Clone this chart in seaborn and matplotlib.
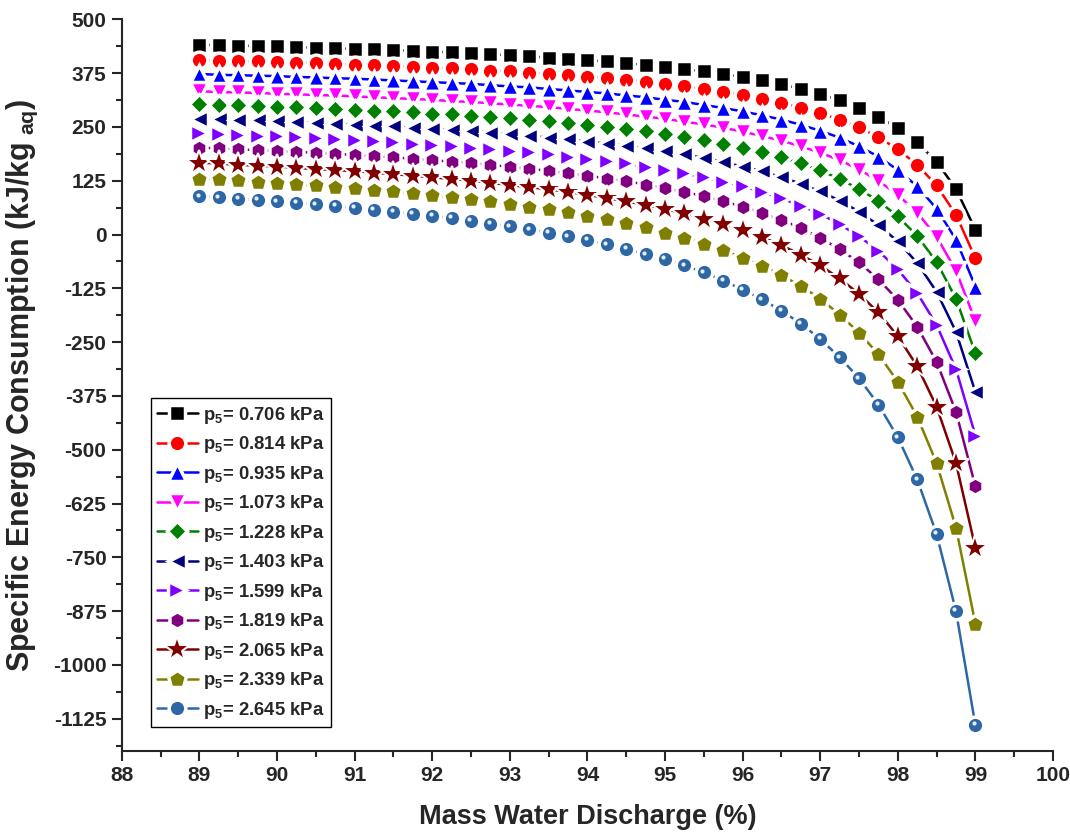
import matplotlib
matplotlib.use('Agg')
import matplotlib.pyplot as plt
import matplotlib.transforms as mtransforms
import seaborn as sns
from matplotlib.ticker import MultipleLocator

# x values: mass water discharge (%)
mass_discharge = [89.0, 89.25, 89.5, 89.75, 90.0, 90.25, 90.5, 90.75, 91.0, 91.25,
                  91.5, 91.75, 92.0, 92.25, 92.5, 92.75, 93.0, 93.25, 93.5, 93.75,
                  94.0, 94.25, 94.5, 94.75, 95.0, 95.25, 95.5, 95.75, 96.0, 96.25,
                  96.5, 96.75, 97.0, 97.25, 97.5, 97.75, 98.0, 98.25, 98.5, 98.75, 99.0]

# specific energy consumption (kJ/kg_aq)
sec_0706 = [441, 440, 439, 438, 437, 435, 434, 433, 431, 430, 428, 427, 425, 423, 421,
            419, 416, 414, 411, 408, 405, 402, 398, 394, 389, 384, 379, 373, 366, 358,
            349, 338, 326, 312, 295, 274, 247, 214, 169, 106, 11]
sec_0814 = [405, 404, 403, 402, 400, 399, 398, 396, 395, 393, 391, 390, 388, 386, 384,
            381, 379, 376, 373, 370, 367, 363, 359, 355, 350, 344, 339, 332, 324, 316,
            306, 295, 282, 267, 249, 226, 198, 162, 114, 46, -55]
sec_0935 = [373, 371, 370, 369, 368, 366, 365, 363, 362, 360, 358, 356, 354, 352, 350,
            347, 344, 342, 338, 335, 331, 328, 323, 319, 313, 308, 301, 294, 286, 277,
            267, 255, 241, 225, 205, 181, 150, 112, 60, -12, -121]
sec_1073 = [333, 331, 330, 329, 327, 326, 324, 323, 321, 319, 317, 315, 313, 310, 308,
            305, 302, 299, 296, 292, 288, 284, 279, 274, 269, 262, 256, 248, 239, 229,
            218, 205, 190, 173, 151, 125, 92, 51, -5, -84, -201]
sec_1228 = [303, 302, 300, 299, 297, 296, 294, 292, 290, 288, 286, 284, 281, 279, 276,
            273, 270, 267, 263, 259, 255, 250, 245, 240, 234, 227, 219, 211, 202, 191,
            179, 165, 149, 129, 106, 78, 42, -3, -64, -149, -276]
sec_1403 = [269, 268, 266, 265, 263, 261, 259, 257, 255, 253, 251, 248, 246, 243, 240,
            237, 233, 229, 225, 221, 216, 211, 206, 200, 193, 186, 178, 168, 158, 147,
            133, 118, 100, 79, 53, 22, -16, -66, -133, -226, -366]
sec_1599 = [235, 233, 231, 230, 228, 226, 224, 222, 219, 217, 214, 211, 208, 205, 202,
            198, 195, 191, 186, 181, 176, 171, 165, 158, 151, 142, 133, 123, 112, 99,
            84, 67, 48, 24, -4, -38, -81, -136, -210, -313, -467]
sec_1819 = [202, 200, 198, 196, 194, 192, 190, 187, 185, 182, 179, 176, 173, 169, 166,
            162, 157, 153, 148, 142, 137, 130, 124, 116, 108, 99, 89, 77, 65, 50,
            34, 15, -8, -34, -65, -104, -152, -214, -296, -412, -585]
sec_2065 = [167, 165, 162, 160, 158, 155, 152, 150, 147, 144, 140, 137, 133, 129, 125,
            120, 115, 110, 105, 99, 92, 85, 77, 69, 59, 49, 37, 25, 10, -6,
            -25, -47, -72, -102, -138, -181, -236, -306, -400, -531, -728]
sec_2339 = [130, 128, 126, 123, 120, 117, 114, 111, 108, 104, 100, 96, 92, 87, 82,
            77, 71, 65, 59, 52, 44, 36, 27, 17, 4, -8, -21, -36, -54, -73,
            -94, -120, -149, -186, -228, -278, -342, -423, -531, -681, -904]
sec_2645 = [89, 86, 83, 80, 77, 73, 70, 66, 62, 57, 53, 48, 43, 38, 32,
            25, 19, 12, 4, -4, -13, -23, -34, -46, -57, -72, -88, -107, -128, -151,
            -177, -207, -243, -285, -334, -395, -471, -569, -696, -875, -1140]

pressures = ['0.706', '0.814', '0.935', '1.073', '1.228', '1.403',
             '1.599', '1.819', '2.065', '2.339', '2.645']
all_series = [sec_0706, sec_0814, sec_0935, sec_1073, sec_1228, sec_1403,
              sec_1599, sec_1819, sec_2065, sec_2339, sec_2645]

x_ticks = [88, 89, 90, 91, 92, 93, 94, 95, 96, 97, 98, 99, 100]
y_ticks = [500, 375, 250, 125, 0, -125, -250, -375, -500, -625, -750, -875, -1000, -1125]

colors = ['#000000', '#FF0000', '#0000FF', '#FF00FF', '#008000', '#000080',
          '#8000FF', '#800080', '#800000', '#808000', '#2E67A6']
markers = ['s', 'o', '^', 'v', 'D', '<', '>', 'h', '*', 'p', 'o']
msizes = [11, 12, 13.5, 13.5, 10, 13.5, 13.5, 12.5, 19, 13.5, 12]
edges = [2.5, 2.5, 2.5, 2.5, 2.5, 2.5, 2.5, 2.5, 1.5, 2.5, 2.5]

sns.set_style('ticks')
plt.rcParams['font.family'] = ['Liberation Sans', 'DejaVu Sans']
plt.rcParams['font.weight'] = 'bold'
plt.rcParams['axes.labelweight'] = 'bold'
plt.rcParams['mathtext.fontset'] = 'custom'
plt.rcParams['mathtext.rm'] = 'Liberation Sans:bold'
plt.rcParams['mathtext.it'] = 'Liberation Sans:bold'
plt.rcParams['mathtext.bf'] = 'Liberation Sans:bold'

fig = plt.figure(figsize=(10.7, 8.36), dpi=100)
ax = fig.add_axes([0.1138, 0.1017, 0.8703, 0.8752])

for p, vals, c, m, ms, ew in zip(pressures, all_series, colors, markers, msizes, edges):
    sns.lineplot(x=mass_discharge, y=vals, ax=ax, color=c, marker=m, markersize=ms,
                 markeredgecolor='white', markeredgewidth=ew, linewidth=1.8,
                 linestyle='-', label='p$_5$= ' + p + ' kPa')

# small highlight on the sphere markers of the last series (shifted up-left)
shine = mtransforms.offset_copy(ax.transData, fig=fig, x=-1.2, y=1.2, units='points')
ax.plot(mass_discharge, sec_2645, linestyle='none', marker='o', markersize=3,
        markerfacecolor='#E4EEF8', markeredgewidth=0, transform=shine)

ax.set_xlim(88, 100)
ax.set_ylim(-1200, 500)
ax.set_xticks(x_ticks)
ax.set_xticklabels([str(t) for t in x_ticks])
ax.set_yticks(y_ticks)
ax.set_yticklabels([str(t) for t in y_ticks])
ax.xaxis.set_minor_locator(MultipleLocator(0.5))
ax.yaxis.set_minor_locator(MultipleLocator(62.5))

for side in ['top', 'right']:
    ax.spines[side].set_visible(False)
for side in ['left', 'bottom']:
    ax.spines[side].set_linewidth(1.5)

ax.tick_params(which='major', direction='out', length=7, width=1.5, labelsize=15, pad=4)
ax.tick_params(which='minor', direction='out', length=4, width=1.5)

ax.set_xlabel('Mass Water Discharge (%)', fontsize=19.5, fontweight='bold')
ax.set_ylabel(r'Specific Energy Consumption (kJ/kg$_{\ aq}$)', fontsize=22, fontweight='bold')
ax.xaxis.set_label_coords(0.5, -0.072)
ax.yaxis.set_label_coords(-0.088, 0.5)

handles, labels = ax.get_legend_handles_labels()
leg = ax.legend(handles[:11], labels[:11], loc='upper left', bbox_to_anchor=(0.031, 0.482),
                borderaxespad=0, frameon=True, fancybox=False, edgecolor='black',
                framealpha=1, prop={'size': 13.3, 'weight': 'bold'}, handlelength=2.2,
                handletextpad=0.3, labelspacing=0.46, borderpad=0.35)
leg.get_frame().set_linewidth(1.0)

fig.savefig('out.png', dpi=100)
